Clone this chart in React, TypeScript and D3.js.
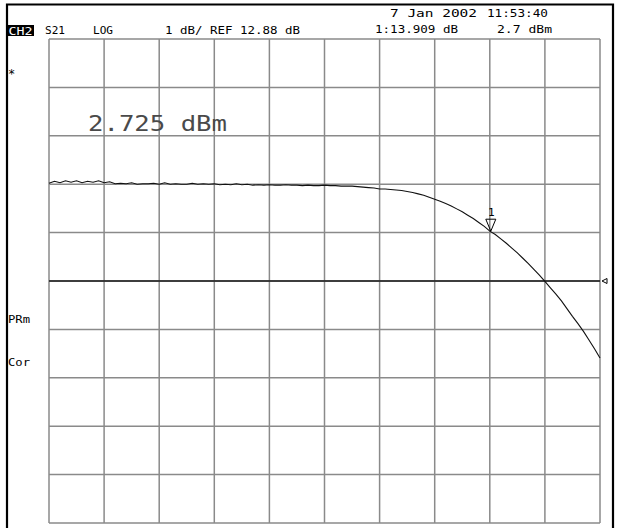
import React from "react";
import * as d3 from "d3";

// Trace values (dB), one per 0.1 division, 101 sweep points
const traceDb: number[] = [
  14.90, 14.94, 14.91, 14.95, 14.92, 14.95, 14.91, 14.94, 14.92, 14.95,
  14.91, 14.93, 14.89, 14.90, 14.89, 14.91, 14.88, 14.89, 14.89, 14.90,
  14.88, 14.91, 14.88, 14.89, 14.88, 14.88, 14.90, 14.88, 14.89, 14.88,
  14.89, 14.87, 14.88, 14.87, 14.89, 14.87, 14.88, 14.86, 14.87, 14.86,
  14.87, 14.86, 14.86, 14.87, 14.86, 14.86, 14.85, 14.86, 14.85, 14.85,
  14.86, 14.85, 14.85, 14.84, 14.84, 14.84, 14.83, 14.82, 14.81, 14.80,
  14.78, 14.78, 14.77, 14.76, 14.75, 14.73, 14.71, 14.68, 14.65, 14.61,
  14.57, 14.53, 14.48, 14.43, 14.37, 14.31, 14.24, 14.17, 14.09, 14.01,
  13.91, 13.84, 13.75, 13.66, 13.56, 13.46, 13.35, 13.24, 13.12, 13.00,
  12.87, 12.74, 12.61, 12.47, 12.31, 12.15, 12.00, 11.84, 11.66, 11.48,
  11.29,
];

const refLevel = 12.88;
const scaleDiv = 1; // dB per division
const divisions = [0, 1, 2, 3, 4, 5, 6, 7, 8, 9, 10];
const markerIndex = 80;
const markerValue = 13.909;

const headerTexts = [
  { t: "S21", x: 45, y: 34, w: 20 },
  { t: "LOG", x: 93, y: 34, w: 20 },
  { t: "1 dB/ REF 12.88 dB", x: 165, y: 34, w: 135 },
  { t: "7 Jan 2002", x: 390, y: 17, w: 87 },
  { t: "11:53:40", x: 487, y: 17, w: 61 },
  { t: "1:13.909 dB", x: 375, y: 33, w: 83 },
  { t: "2.7 dBm", x: 497, y: 33, w: 55 },
];
const sideTexts = [
  { t: "PRm", x: 8, y: 323, w: 22 },
  { t: "Cor", x: 8, y: 366, w: 22 },
];

const W = 617;
const H = 528;
const L = 49, R = 600, T = 39, B = 523;

export default function App() {
  const n = traceDb.length;
  const x = d3.scaleLinear().domain([0, n - 1]).range([L, R]);
  const xDiv = d3.scaleLinear().domain([0, 10]).range([L, R]);
  const y = d3
    .scaleLinear()
    .domain([refLevel - 5 * scaleDiv, refLevel + 5 * scaleDiv])
    .range([B, T]);
  const yTicks = divisions.map((d) => refLevel - 5 * scaleDiv + d * scaleDiv);
  const line = d3
    .line<number>()
    .x((_, i) => x(i))
    .y((v) => y(v));

  const mx = x(markerIndex);
  const my = y(markerValue);
  const ry = y(refLevel);
  const font = "'DejaVu Sans Mono', monospace";

  return (
    <svg
      width={W}
      height={H}
      style={{ position: "absolute", left: 0, top: 0, background: "#fff" }}
      fontFamily={font}
    >
      <rect x={0} y={0} width={W} height={H} fill="#fff" />
      {/* frame */}
      <path d={`M7,${H} V4.5 H613 V${H}`} fill="none" stroke="#000" strokeWidth={2.2} />
      {/* grid */}
      {divisions.map((d) => (
        <line
          key={"v" + d}
          x1={xDiv(d)}
          x2={xDiv(d)}
          y1={T}
          y2={B}
          stroke="#8a8a8a"
          strokeWidth={1.5}
        />
      ))}
      {yTicks.map((v, i) => (
        <line
          key={"h" + i}
          x1={L}
          x2={R}
          y1={y(v)}
          y2={y(v)}
          stroke="#8a8a8a"
          strokeWidth={1.5}
        />
      ))}
      {/* reference line */}
      <line x1={L} x2={R} y1={ry} y2={ry} stroke="#1a1a1a" strokeWidth={1.4} />
      <path
        d={`M${R + 2},${ry} L${R + 7},${ry - 2.5} L${R + 7},${ry + 2.5} Z`}
        fill="#fff"
        stroke="#000"
        strokeWidth={1}
      />
      {/* trace */}
      <path d={line(traceDb) || ""} fill="none" stroke="#111" strokeWidth={1.1} />
      {/* marker */}
      <path
        d={`M${mx + 1},${my} L${mx - 4},${my - 12} L${mx + 6},${my - 12} Z`}
        fill="none"
        stroke="#000"
        strokeWidth={1}
      />
      <text x={mx + 1.5} y={my - 15} fontSize={11} textAnchor="middle" fill="#000">
        1
      </text>
      {/* header */}
      <rect x={7} y={25} width={27} height={11} fill="#000" />
      <text x={8.5} y={34.5} fontSize={11} fill="#fff" textLength={24} lengthAdjust="spacingAndGlyphs">
        CH2
      </text>
      {headerTexts.map((h) => (
        <text
          key={h.t}
          x={h.x}
          y={h.y}
          fontSize={11}
          fill="#000"
          textLength={h.w}
          lengthAdjust="spacingAndGlyphs"
        >
          {h.t}
        </text>
      ))}
      {sideTexts.map((h) => (
        <text
          key={h.t}
          x={h.x}
          y={h.y}
          fontSize={11}
          fill="#000"
          textLength={h.w}
          lengthAdjust="spacingAndGlyphs"
        >
          {h.t}
        </text>
      ))}
      <text x={8} y={78} fontSize={12} fill="#000">
        *
      </text>
      <text
        x={88}
        y={131}
        fontSize={21}
        fill="#4a4a4a"
        textLength={139}
        lengthAdjust="spacingAndGlyphs"
      >
        2.725 dBm
      </text>
    </svg>
  );
}
